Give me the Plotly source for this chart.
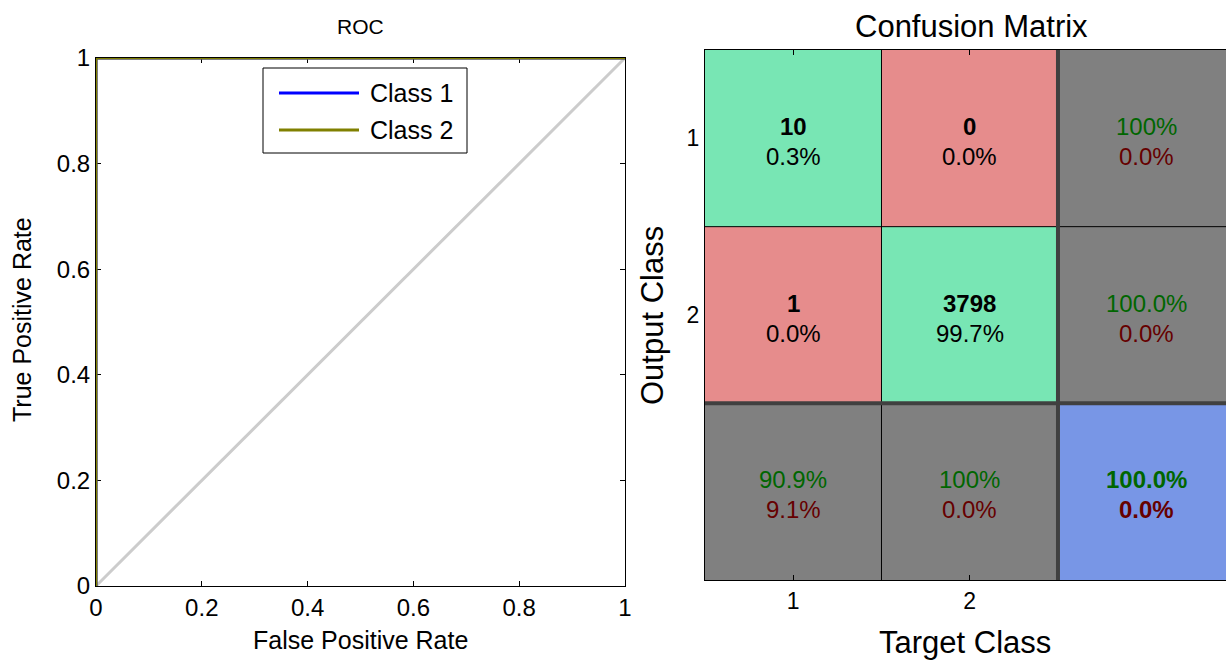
import plotly.graph_objects as go

W, H = 1226, 660
FONT = "Liberation Sans, Arial, sans-serif"

# ---- ROC data ----
class_names = ["Class 1", "Class 2"]
class_colors = ["#0000FF", "#808000"]
roc_fpr = [[0.0, 0.0, 1.0], [0.0, 0.0, 1.0]]
roc_tpr = [[0.0, 1.0, 1.0], [0.0, 1.0, 1.0]]
chance_x = [0.0, 1.0]
chance_y = [0.0, 1.0]
roc_ticks = [0, 0.2, 0.4, 0.6, 0.8, 1]
roc_tick_labels = ["0", "0.2", "0.4", "0.6", "0.8", "1"]

# ---- Confusion matrix data (rows = output class, cols = target class) ----
class_labels = ["1", "2"]
counts = [[10, 0],
          [1, 3798]]

GREEN = "#78E6B4"
RED = "#E68C8C"
GREY = "#808080"
BLUE = "#7896E6"
TXT_GREEN = "#006600"
TXT_RED = "#660000"


def px(x):
    return x / W


def py(y):
    return 1 - y / H


def fmt_rate(v):
    return "100%" if v == 100 else f"{v:.1f}%"


n = len(class_labels)
total = sum(sum(r) for r in counts)

# category grid for the heatmap: 0 correct, 1 wrong, 2 summary, 3 overall
cat = [[0] * (n + 1) for _ in range(n + 1)]
for i in range(n + 1):
    for j in range(n + 1):
        if i < n and j < n:
            cat[i][j] = 0 if i == j else 1
        elif i == n and j == n:
            cat[i][j] = 3
        else:
            cat[i][j] = 2

fig = go.Figure()

# ---- ROC panel ----
fig.add_trace(go.Scatter(x=chance_x, y=chance_y, mode="lines",
                         line=dict(color="#CCCCCC", width=3),
                         showlegend=False, hoverinfo="skip",
                         cliponaxis=False, xaxis="x", yaxis="y"))
for k in range(len(class_names)):
    fig.add_trace(go.Scatter(x=roc_fpr[k], y=roc_tpr[k], mode="lines",
                             name=class_names[k],
                             line=dict(color=class_colors[k], width=3),
                             showlegend=False, cliponaxis=False,
                             xaxis="x", yaxis="y"))

# ---- Confusion heatmap ----
cx = list(range(1, n + 2))
cy = list(range(1, n + 2))
fig.add_trace(go.Heatmap(
    x=cx, y=cy, z=cat, zmin=0, zmax=3,
    colorscale=[[0, GREEN], [0.25, GREEN], [0.25, RED], [0.5, RED],
                [0.5, GREY], [0.75, GREY], [0.75, BLUE], [1, BLUE]],
    showscale=False, hoverinfo="skip", xaxis="x2", yaxis="y2"))

X2_MAX = 3.452
annotations = []
shapes = []

CELL_FS = 24
DY_TOP = 12
DY_BOTTOM = -18


def cell_text(xc, yc, top, bottom, top_color, bottom_color):
    annotations.append(dict(x=xc, y=yc, xref="x2", yref="y2", text=top,
                            showarrow=False, yshift=DY_TOP,
                            font=dict(size=CELL_FS, color=top_color, family=FONT)))
    annotations.append(dict(x=xc, y=yc, xref="x2", yref="y2", text=bottom,
                            showarrow=False, yshift=DY_BOTTOM,
                            font=dict(size=CELL_FS, color=bottom_color, family=FONT)))


for i in range(n):
    for j in range(n):
        c = counts[i][j]
        cell_text(j + 1, i + 1, f"<b>{c}</b>", f"{100 * c / total:.1f}%",
                  "black", "black")

# row summaries (precision)
for i in range(n):
    row_sum = sum(counts[i])
    good = 100 * counts[i][i] / row_sum
    cell_text(n + 1, i + 1, fmt_rate(good), f"{100 - good:.1f}%",
              TXT_GREEN, TXT_RED)

# column summaries (recall)
for j in range(n):
    col_sum = sum(counts[i][j] for i in range(n))
    good = 100 * counts[j][j] / col_sum
    cell_text(j + 1, n + 1, fmt_rate(good), f"{100 - good:.1f}%",
              TXT_GREEN, TXT_RED)

overall = 100 * sum(counts[k][k] for k in range(n)) / total
cell_text(n + 1, n + 1, f"<b>{fmt_rate(overall)}</b>",
          f"<b>{100 - overall:.1f}%</b>", TXT_GREEN, TXT_RED)

# grid lines
for b in range(1, n):
    shapes.append(dict(type="line", xref="x2", yref="y2", x0=b + 0.5, x1=b + 0.5,
                       y0=0.5, y1=n + 1.5, line=dict(color="black", width=1)))
    shapes.append(dict(type="line", xref="x2", yref="y2", x0=0.5, x1=X2_MAX,
                       y0=b + 0.5, y1=b + 0.5, line=dict(color="black", width=1)))
shapes.append(dict(type="line", xref="x2", yref="y2", x0=n + 0.5, x1=n + 0.5,
                   y0=0.5, y1=n + 1.5, line=dict(color="#404040", width=4)))
shapes.append(dict(type="line", xref="x2", yref="y2", x0=0.5, x1=X2_MAX,
                   y0=n + 0.5, y1=n + 0.5, line=dict(color="#404040", width=4)))

# ---- ROC legend box ----
shapes.append(dict(type="rect", xref="paper", yref="paper",
                   x0=px(263), x1=px(467), y0=py(153), y1=py(68),
                   line=dict(color="black", width=1), fillcolor="white"))
for k, yy in enumerate([93, 130]):
    shapes.append(dict(type="line", xref="paper", yref="paper",
                       x0=px(279), x1=px(359), y0=py(yy), y1=py(yy),
                       line=dict(color=class_colors[k], width=3)))
    annotations.append(dict(x=px(368), y=py(yy), xref="paper", yref="paper",
                            text=class_names[k], showarrow=False,
                            xanchor="left", yanchor="middle",
                            font=dict(size=25, color="black", family=FONT)))


# ---- titles and axis titles ----
def label(x, y, text, size, angle=0):
    annotations.append(dict(x=px(x), y=py(y), xref="paper", yref="paper",
                            text=text, showarrow=False, textangle=angle,
                            xanchor="center", yanchor="middle",
                            font=dict(size=size, color="black", family=FONT)))


label(360, 27, "ROC", 21)
label(360, 640, "False Positive Rate", 25)
label(22, 320, "True Positive Rate", 25, -90)
label(971, 27, "Confusion Matrix", 31)
label(965, 642, "Target Class", 31)
label(652, 315, "Output Class", 31, -90)

axis_common = dict(showgrid=False, zeroline=False, linecolor="black",
                   linewidth=1, tickcolor="black", ticks="inside", ticklen=5,
                   automargin=False,
                   tickfont=dict(size=24, color="black", family=FONT))
cm_axis = {**axis_common, "tickfont": dict(size=23, color="black", family=FONT)}

fig.update_layout(
    width=W, height=H,
    margin=dict(l=0, r=0, t=0, b=0),
    paper_bgcolor="white", plot_bgcolor="white",
    font=dict(family=FONT, color="black"),
    showlegend=False,
    xaxis=dict(domain=[px(96), px(625)], range=[0, 1], showline=True,
               mirror="ticks", tickvals=roc_ticks, ticktext=roc_tick_labels,
               anchor="y", layer="below traces", **axis_common),
    yaxis=dict(domain=[py(586), py(58)], range=[0, 1], showline=True,
               mirror="ticks", tickvals=roc_ticks, ticktext=roc_tick_labels,
               anchor="x", layer="below traces", **axis_common),
    xaxis2=dict(domain=[px(705), 1.0], range=[0.5, X2_MAX], showline=True,
                mirror="ticks", tickvals=[1, 2], ticktext=class_labels,
                anchor="y2", **cm_axis),
    yaxis2=dict(domain=[py(580), py(50)], range=[n + 1.5, 0.5], showline=True,
                mirror=False, tickvals=[1, 2], ticktext=class_labels,
                anchor="x2", **{**cm_axis, "ticks": ""}),
    annotations=annotations,
    shapes=shapes,
)

fig.write_html("out.html")
